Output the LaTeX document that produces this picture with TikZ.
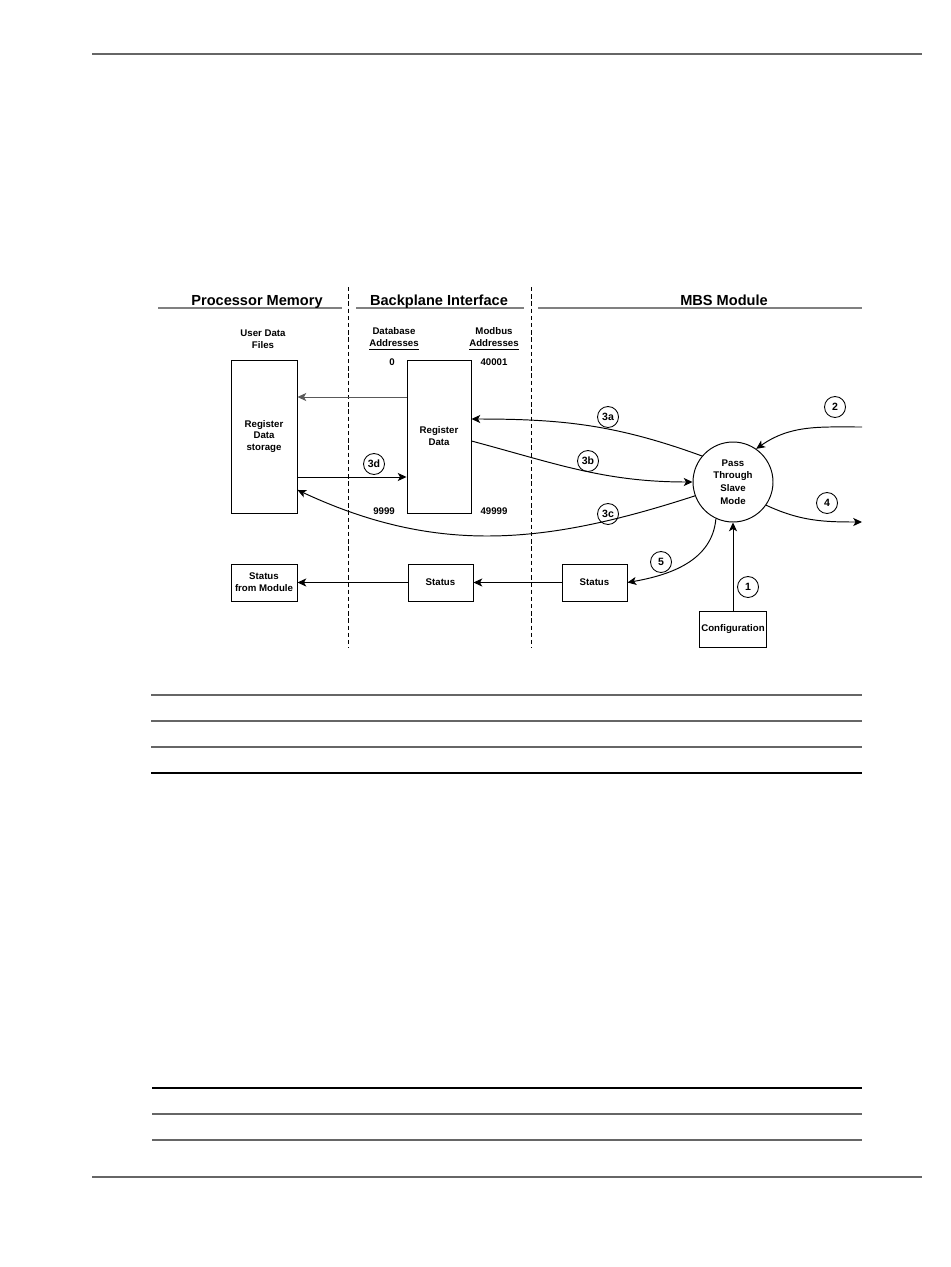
\documentclass[tikz,border=0pt]{standalone}
\usepackage{fontspec}
\setmainfont{Liberation Sans}
\usetikzlibrary{arrows.meta}
\begin{document}
\begin{tikzpicture}[x=0.02cm, y=-0.02cm,
    font=\bfseries\fontsize{5.5}{6.8}\selectfont,
    box/.style={draw, line width=0.55pt, align=center, inner sep=1pt},
    num/.style={draw, circle, line width=0.5pt, minimum size=0.42cm, inner sep=0pt,
      font=\bfseries\fontsize{6}{7}\selectfont},
    head/.style={anchor=base, font=\bfseries\fontsize{8.3}{10}\selectfont},
    rule/.style={line width=1.1pt, black!60},
    link/.style={-{Stealth[length=5pt, width=4.6pt, inset=1.3pt]}, line width=0.55pt}]
      \useasboundingbox (0,0) rectangle (950,1267);
      % page rules
      \draw[rule] (92,54) -- (922,54);
      \draw[rule] (151,695) -- (862,695);
      \draw[rule] (151,721) -- (862,721);
      \draw[rule] (151,747) -- (862,747);
      \draw[rule, black] (151,773) -- (862,773);
      \draw[rule, black] (152,1088) -- (862,1088);
      \draw[rule] (152,1114) -- (862,1114);
      \draw[rule] (152,1140) -- (862,1140);
      \draw[rule] (92,1177) -- (922,1177);
      % columns
      \draw[line width=0.45pt, dash pattern=on 2.5pt off 1.6pt] (348,287) -- (348,648);
      \draw[line width=0.45pt, dash pattern=on 2.5pt off 1.6pt] (531,287) -- (531,648);
      \draw[rule, black!50] (158,308) -- (342,308);
      \draw[rule, black!50] (356,308) -- (524,308);
      \draw[rule, black!50] (538,308) -- (862,308);
      \draw
        (257,305) node[head] (hpm){Processor Memory}
        (439,305) node[head] (hbi){Backplane Interface}
        (724,305) node[head] (hmbs){MBS Module}
        (263,339) node[align=center] (udf){User Data\\Files}
        (394,339) node[align=center] (dba){Database\\\underline{Addresses}}
        (494,339) node[align=center] (mba){Modbus\\\underline{Addresses}}
        (392,362) node (a0){0}
        (494,362) node (a40001){40001}
        (384,511) node (a9999){9999}
        (494,511) node (a49999){49999};
      \draw
        (264,436.5) node[box, minimum width=1.32cm, minimum height=3.06cm] (mem){Register\\Data\\storage}
        (439,436.5) node[box, minimum width=1.28cm, minimum height=3.06cm] (reg){Register\\Data}
        (733,482) node[draw, circle, line width=0.55pt, minimum size=1.6cm, inner sep=0pt, align=center,
          font=\bfseries\fontsize{5.5}{7.2}\selectfont] (pass){Pass\\Through\\Slave\\Mode}
        (733,629) node[box, minimum width=1.32cm, minimum height=0.72cm] (cfg){Configuration}
        (264,582.5) node[box, minimum width=1.32cm, minimum height=0.74cm] (stmod){Status\\from Module}
        (440.5,582.5) node[box, minimum width=1.3cm, minimum height=0.74cm] (stbp){Status}
        (594.5,582.5) node[box, minimum width=1.3cm, minimum height=0.74cm] (stmbs){Status}
        (608,417) node[num] (n3a){3a}
        (588,461) node[num] (n3b){3b}
        (608,514) node[num] (n3c){3c}
        (374,464) node[num] (n3d){3d}
        (835,407) node[num] (n2){2}
        (827,503) node[num] (n4){4}
        (661,562) node[num] (n5){5}
        (748,587) node[num] (n1){1};
      \coordinate (in2) at (862,427);
      \coordinate (out4) at (862,522);
      \begin{scope}[link]
        \draw[black!65] ([yshift=0.79cm]reg.west) -- ([yshift=0.79cm]mem.east);
        \draw ([yshift=-0.81cm]mem.east) -- ([yshift=-0.81cm]reg.west);
        \draw (pass.140) to[out=160, in=0] ([yshift=0.35cm]reg.east);
        \draw ([yshift=-0.09cm]reg.east) to[out=-15, in=180] (pass.west);
        \draw (pass.200) to[out=198, in=-25] ([yshift=-1.07cm]mem.east);
        \draw (in2) to[out=180, in=35] (pass.55);
        \draw (pass.-35) to[out=-25, in=180] (out4);
        \draw (pass.-115) to[out=-95, in=10] (stmbs.east);
        \draw (cfg.north) -- (pass.south);
        \draw (stmbs.west) -- (stbp.east);
        \draw (stbp.west) -- (stmod.east);
      \end{scope}
    \end{tikzpicture}
\end{document}
